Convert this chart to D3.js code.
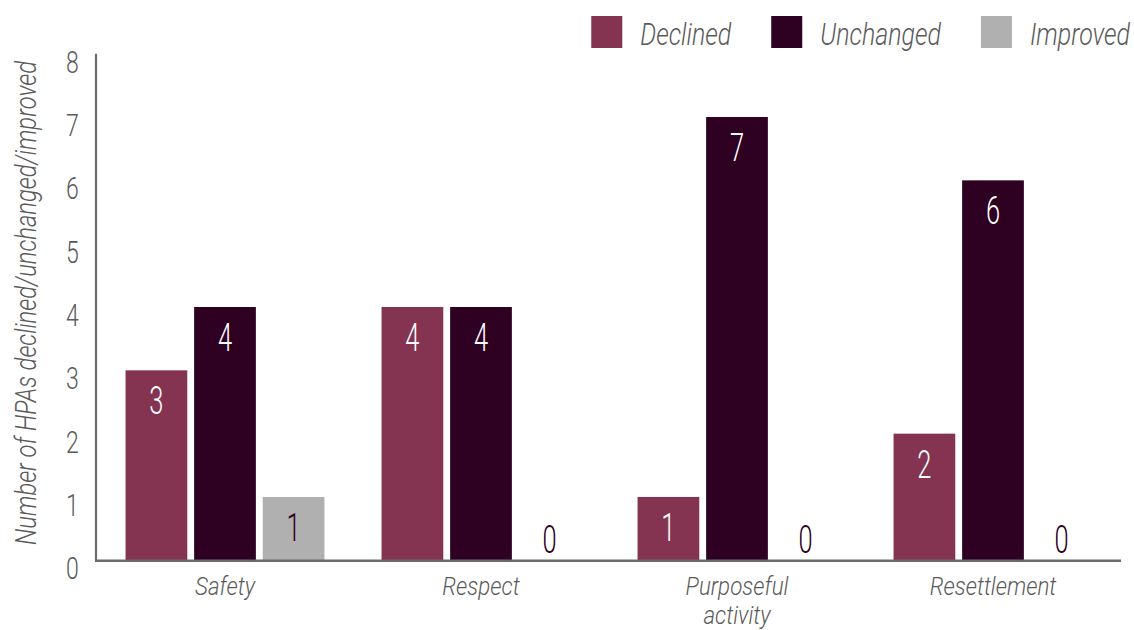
<!DOCTYPE html>
<html>
<head>
<meta charset="utf-8">
<script src="https://cdn.jsdelivr.net/npm/d3@7"></script>
<style>
  html, body { margin: 0; padding: 0; background: #ffffff; }
  svg { display: block; font-family: Roboto, "Noto Sans", sans-serif; }
</style>
</head>
<body>
<svg id="chart" width="1134" height="630"></svg>
<script>
// Categories (x groups) and the three series
const categories = ["Safety", "Respect", "Purposeful activity", "Resettlement"];
const seriesNames = ["Declined", "Unchanged", "Improved"];
const declined  = [3, 4, 1, 2];
const unchanged = [4, 4, 7, 6];
const improved  = [1, 0, 0, 0];
const yTicks = [0, 1, 2, 3, 4, 5, 6, 7, 8];
const yTitle = "Number of HPAs declined/unchanged/improved";

const colors = { Declined: "#843451", Unchanged: "#2e0021", Improved: "#b0b0b0" };
const labelColors = { Declined: "#ffffff", Unchanged: "#ffffff", Improved: "#2e0021" };
const textGrey = "#5a5a5a";
const axisGrey = "#6b6b6b";

// Narrow lettering: glyphs are squeezed horizontally
const SQ_VALUE = 0.67, SQ_TICK = 0.72, SQ_CAT = 0.86, SQ_LEG = 0.78, SQ_TITLE = 0.82;

const svg = d3.select("#chart");

const plot = { left: 97, right: 1121, top: 53.7, bottom: 560.3 };

const x0 = d3.scaleBand()
  .domain(categories)
  .range([plot.left, plot.right])
  .paddingInner(0.223)
  .paddingOuter(0.1115);

const x1 = d3.scaleBand()
  .domain(seriesNames)
  .range([0, x0.bandwidth()])
  .paddingInner(0.1);

const y = d3.scaleLinear().domain([0, 8]).range([plot.bottom, plot.top]);

const rows = categories.map((c, i) => ({
  category: c,
  values: [
    { key: "Declined", value: declined[i] },
    { key: "Unchanged", value: unchanged[i] },
    { key: "Improved", value: improved[i] }
  ]
}));

// Bars
const groups = svg.append("g").selectAll("g")
  .data(rows)
  .join("g")
  .attr("transform", d => `translate(${x0(d.category)},0)`);

groups.selectAll("rect")
  .data(d => d.values)
  .join("rect")
  .attr("x", d => x1(d.key))
  .attr("y", d => y(d.value))
  .attr("width", x1.bandwidth())
  .attr("height", d => y(0) - y(d.value))
  .attr("fill", d => colors[d.key]);

// Value labels: inside the bar top, or just above the baseline for zero
groups.selectAll("text.val")
  .data(d => d.values)
  .join("text")
  .attr("class", "val")
  .attr("transform", d => {
    const cx = x1(d.key) + x1.bandwidth() / 2;
    const by = d.value > 0 ? y(d.value) + 44 : y(0) - 7;
    return `translate(${cx},${by}) scale(${SQ_VALUE},1)`;
  })
  .attr("text-anchor", "middle")
  .attr("font-size", 38)
  .attr("font-weight", 300)
  .attr("fill", d => d.value > 0 ? labelColors[d.key] : colors.Unchanged)
  .text(d => d.value);

// Y axis with labels only; axis line drawn separately
const yAxis = svg.append("g")
  .attr("transform", `translate(${plot.left},0)`)
  .call(d3.axisLeft(y).tickValues(yTicks).tickSize(0).tickFormat(d3.format("d")));
yAxis.select(".domain").remove();
yAxis.selectAll("text")
  .attr("x", null).attr("dy", null)
  .attr("transform", `translate(-24.5,18.5) scale(${SQ_TICK},1)`)
  .attr("text-anchor", "middle")
  .attr("font-family", "Roboto, sans-serif")
  .attr("font-size", 32)
  .attr("font-weight", 300)
  .attr("fill", textGrey);

// Axis lines
svg.append("line")
  .attr("x1", plot.left - 1).attr("x2", plot.left - 1)
  .attr("y1", y(8)).attr("y2", y(0) + 1)
  .attr("stroke", axisGrey).attr("stroke-width", 2.2);
svg.append("line")
  .attr("x1", plot.left - 2).attr("x2", plot.right)
  .attr("y1", y(0) + 0.5).attr("y2", y(0) + 0.5)
  .attr("stroke", axisGrey).attr("stroke-width", 2.6);

// Category labels (long names wrap onto two lines)
svg.append("g").selectAll("text")
  .data(categories)
  .join("text")
  .attr("transform", d => `translate(${x0(d) + x0.bandwidth() / 2},595) scale(${SQ_CAT},1)`)
  .attr("text-anchor", "middle")
  .attr("font-size", 26)
  .attr("font-style", "italic")
  .attr("font-weight", 300)
  .attr("fill", textGrey)
  .each(function (d) {
    const words = d.split(" ");
    const lines = d.length > 14 ? words : [d];
    d3.select(this).selectAll("tspan")
      .data(lines)
      .join("tspan")
      .attr("x", 0)
      .attr("dy", (l, i) => i === 0 ? 0 : 29)
      .text(l => l);
  });

// Y axis title
svg.append("text")
  .attr("transform", `translate(36,303) rotate(-90) scale(${SQ_TITLE},1)`)
  .attr("text-anchor", "middle")
  .attr("font-size", 29)
  .attr("font-style", "italic")
  .attr("font-weight", 300)
  .attr("fill", textGrey)
  .text(yTitle);

// Legend, right-aligned at the top
const legend = svg.append("g");
const items = legend.selectAll("g")
  .data(seriesNames)
  .join("g");
items.append("rect")
  .attr("width", 31).attr("height", 32)
  .attr("y", 16)
  .attr("fill", d => colors[d]);
items.append("text")
  .attr("transform", `translate(49,45) scale(${SQ_LEG},1)`)
  .attr("font-size", 32)
  .attr("font-style", "italic")
  .attr("font-weight", 300)
  .attr("fill", textGrey)
  .text(d => d);

const widths = [];
items.each(function () {
  const t = d3.select(this).select("text").node();
  widths.push(49 + t.getComputedTextLength() * SQ_LEG);
});
const gap = 40;
const total = d3.sum(widths) + gap * (widths.length - 1);
let cursor = 1130 - total;
items.attr("transform", (d, i) => {
  const tx = cursor;
  cursor += widths[i] + gap;
  return `translate(${tx},0)`;
});
</script>
</body>
</html>
